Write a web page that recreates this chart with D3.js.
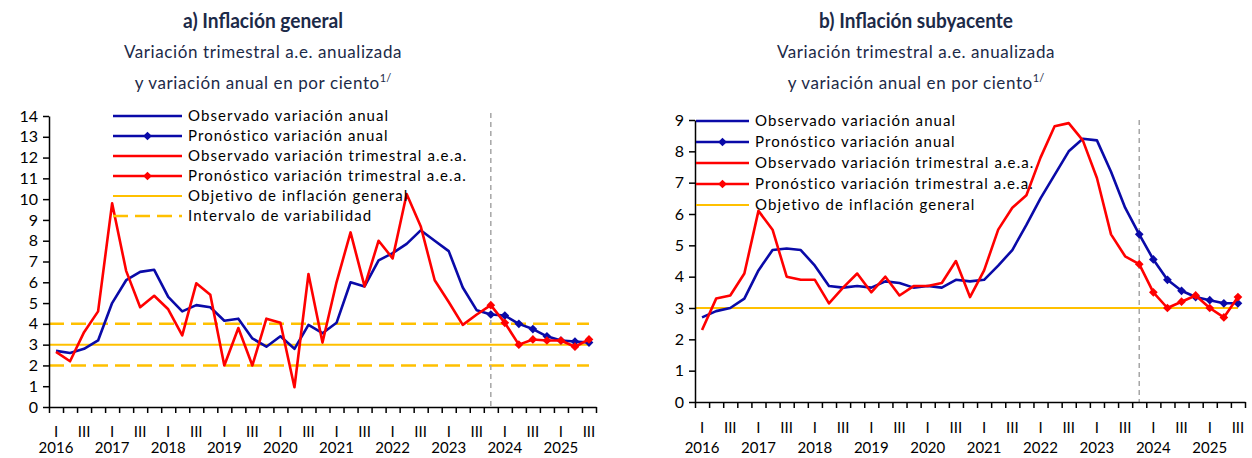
<!DOCTYPE html>
<html>
<head>
<meta charset="utf-8">
<script src="https://cdn.jsdelivr.net/npm/d3@7"></script>
<style>
  body { margin: 0; background: #fff; }
  text { font-family: Lato, "Open Sans", sans-serif; }
</style>
</head>
<body>
<svg id="chart" width="1252" height="458"></svg>
<script>
// categories: 2016 Q1 .. 2025 Q3
var years = [2016, 2017, 2018, 2019, 2020, 2021, 2022, 2023, 2024, 2025];
var quarterNames = ["I", "", "III", ""];
var nQuarters = 39;
var forecastStart = 31; // 2023 Q4

// a) Inflacion general
var genAnualObs = [2.7, 2.6, 2.8, 3.2, 5.0, 6.1, 6.5, 6.6, 5.3, 4.6, 4.9, 4.8, 4.15, 4.25, 3.3, 2.9,
  3.4, 2.8, 3.95, 3.55, 4.05, 6.0, 5.8, 7.05, 7.4, 7.85, 8.5, 8.0, 7.5, 5.75, 4.65, 4.45];
var genTrimObs = [2.65, 2.2, 3.6, 4.6, 9.8, 6.55, 4.8, 5.35, 4.7, 3.45, 5.95, 5.4, 2.0, 3.8, 2.0, 4.25,
  4.05, 0.95, 6.4, 3.1, 6.0, 8.4, 5.8, 8.0, 7.15, 10.25, 8.7, 6.1, 5.05, 3.95, 4.45, 4.9];
var genAnualPron = [4.45, 4.4, 4.0, 3.75, 3.4, 3.2, 3.15, 3.1];
var genTrimPron = [4.9, 4.05, 3.0, 3.25, 3.2, 3.2, 2.9, 3.25];
var genTarget = 3;
var genBand = [2, 4];

// b) Inflacion subyacente
var coreAnualObs = [2.7, 2.9, 3.0, 3.3, 4.2, 4.85, 4.9, 4.85, 4.35, 3.7, 3.65, 3.7, 3.65, 3.85, 3.8, 3.65,
  3.7, 3.65, 3.9, 3.85, 3.9, 4.35, 4.85, 5.65, 6.5, 7.25, 8.0, 8.4, 8.35, 7.35, 6.2, 5.35];
var coreTrimObs = [2.3, 3.3, 3.4, 4.1, 6.1, 5.5, 4.0, 3.9, 3.9, 3.15, 3.65, 4.1, 3.5, 4.0, 3.4, 3.7,
  3.7, 3.8, 4.5, 3.35, 4.2, 5.5, 6.2, 6.6, 7.8, 8.8, 8.9, 8.35, 7.15, 5.35, 4.65, 4.4];
var coreAnualPron = [5.35, 4.55, 3.9, 3.55, 3.35, 3.25, 3.15, 3.15];
var coreTrimPron = [4.4, 3.5, 3.0, 3.2, 3.4, 3.0, 2.7, 3.35];
var coreTarget = 3;

var legendGen = ["Observado variación anual", "Pronóstico variación anual",
  "Observado variación trimestral a.e.a.", "Pronóstico variación trimestral a.e.a.",
  "Objetivo de inflación general", "Intervalo de variabilidad"];
var legendCore = legendGen.slice(0, 5);

var BLUE = "#0a0aa8", RED = "#ff0000", YELLOW = "#ffc000", GRAY = "#a6a6a6";

var svg = d3.select("#chart");

function drawPanel(cfg) {
  var g = svg.append("g");

  var x = d3.scaleLinear().domain([0, nQuarters]).range([cfg.left, cfg.right]);
  var y = d3.scaleLinear().domain([0, cfg.yMax]).range([cfg.bottom, cfg.top]);
  var cx = function(i) { return x(i + 0.5); };

  // titles
  var tx = cfg.titleX;
  g.append("text").attr("x", tx).attr("y", 28).attr("text-anchor", "middle")
    .attr("textLength", cfg.titleLen).attr("lengthAdjust", "spacingAndGlyphs")
    .style("font-weight", "bold").style("font-size", "20px").style("fill", "#1c2a48")
    .text(cfg.title);
  g.append("text").attr("x", tx).attr("y", 58).attr("text-anchor", "middle")
    .style("font-size", "17px").style("fill", "#1c2a48").style("letter-spacing", "0.6px")
    .text("Variación trimestral a.e. anualizada");
  var t2 = g.append("text").attr("x", tx).attr("y", 89).attr("text-anchor", "middle")
    .style("font-size", "17px").style("fill", "#1c2a48").style("letter-spacing", "0.6px");
  t2.append("tspan").text("y variación anual en por ciento");
  t2.append("tspan").attr("dy", -7).style("font-size", "11px").style("letter-spacing", "0px").text("1/");

  // reference lines
  g.append("line").attr("x1", cfg.left).attr("x2", cx(nQuarters - 1))
    .attr("y1", y(cfg.target)).attr("y2", y(cfg.target))
    .attr("stroke", YELLOW).attr("stroke-width", 2);
  if (cfg.band) {
    cfg.band.forEach(function(b) {
      g.append("line").attr("x1", cfg.left).attr("x2", cx(nQuarters - 1))
        .attr("y1", y(b)).attr("y2", y(b))
        .attr("stroke", YELLOW).attr("stroke-width", 2.5).attr("stroke-dasharray", "15,7");
    });
  }

  // forecast divider
  g.append("line").attr("x1", cx(forecastStart)).attr("x2", cx(forecastStart))
    .attr("y1", cfg.dividerTop).attr("y2", cfg.bottom)
    .attr("stroke", GRAY).attr("stroke-width", 1.5).attr("stroke-dasharray", "5,4");

  // axes
  var xAxis = d3.axisBottom(x).tickValues(d3.range(nQuarters + 1)).tickFormat("")
    .tickSize(6).tickSizeOuter(0);
  var gx = g.append("g").attr("transform", "translate(0," + cfg.bottom + ")").call(xAxis);
  var yAxis = d3.axisLeft(y).tickValues(d3.range(cfg.yMax + 1)).tickSize(6).tickSizeOuter(0).tickPadding(5);
  var gy = g.append("g").attr("transform", "translate(" + cfg.left + ",0)").call(yAxis);
  [gx, gy].forEach(function(a) {
    a.select(".domain").attr("stroke", "#000").attr("stroke-width", 1.5);
    a.selectAll(".tick line").attr("stroke", "#000").attr("stroke-width", 1.5);
  });
  gy.selectAll(".tick text").style("font-size", "16px").style("fill", "#000")
    .style("font-family", "Lato, sans-serif");

  // quarter and year labels
  d3.range(nQuarters).forEach(function(i) {
    var q = quarterNames[i % 4];
    if (q) {
      g.append("text").attr("x", cx(i)).attr("y", cfg.qLabelY).attr("text-anchor", "middle")
        .style("font-size", "15px").style("fill", "#000").text(q);
    }
    if (i % 4 === 0) {
      g.append("text").attr("x", cx(i)).attr("y", cfg.yearLabelY).attr("text-anchor", "middle")
        .style("font-size", "15px").style("fill", "#000").text(years[i / 4]);
    }
  });

  var line = d3.line().x(function(d) { return cx(d.i); }).y(function(d) { return y(d.v); });
  function series(vals, offset) {
    return vals.map(function(v, k) { return { i: k + offset, v: v }; });
  }
  var diamond = d3.symbol(d3.symbolSquare, 38);

  function drawLine(data, color, markers) {
    g.append("path").datum(data).attr("d", line).attr("fill", "none")
      .attr("stroke", color).attr("stroke-width", 2.6).attr("stroke-linejoin", "round");
    if (markers) {
      g.selectAll(null).data(data).enter().append("path").attr("d", diamond)
        .attr("transform", function(d) { return "translate(" + cx(d.i) + "," + y(d.v) + ") rotate(45)"; })
        .attr("fill", color);
    }
  }

  drawLine(series(cfg.anualObs, 0), BLUE, false);
  drawLine(series(cfg.anualPron, forecastStart), BLUE, true);
  drawLine(series(cfg.trimObs, 0), RED, false);
  drawLine(series(cfg.trimPron, forecastStart), RED, true);

  // legend
  var styles = [
    { c: BLUE, m: false }, { c: BLUE, m: true }, { c: RED, m: false }, { c: RED, m: true },
    { c: YELLOW, m: false, w: 2 }, { c: YELLOW, m: false, w: 2.5, dash: "15,7" }
  ];
  cfg.legend.forEach(function(label, k) {
    var ly = cfg.legY + k * cfg.legStep;
    var s = styles[k];
    g.append("line").attr("x1", cfg.legX).attr("x2", cfg.legX + cfg.legLen)
      .attr("y1", ly).attr("y2", ly).attr("stroke", s.c).attr("stroke-width", s.w || 2.6)
      .attr("stroke-dasharray", s.dash || null);
    if (s.m) {
      g.append("path").attr("d", diamond)
        .attr("transform", "translate(" + (cfg.legX + cfg.legLen / 2) + "," + ly + ") rotate(45)")
        .attr("fill", s.c);
    }
    g.append("text").attr("x", cfg.legX + cfg.legLen + 6).attr("y", ly + 5)
      .style("font-size", "15px").style("fill", "#000").style("letter-spacing", "1.1px")
      .text(label);
  });
}

drawPanel({
  title: "a) Inflación general", titleX: 263, titleLen: 160,
  left: 49, right: 596, top: 116, bottom: 407, yMax: 14, dividerTop: 113,
  qLabelY: 437, yearLabelY: 453,
  anualObs: genAnualObs, trimObs: genTrimObs, anualPron: genAnualPron, trimPron: genTrimPron,
  target: genTarget, band: genBand,
  legend: legendGen, legX: 113, legLen: 69, legY: 116, legStep: 20
});

drawPanel({
  title: "b) Inflación subyacente", titleX: 916, titleLen: 194,
  left: 695, right: 1245, top: 120, bottom: 402, yMax: 9, dividerTop: 120,
  qLabelY: 433, yearLabelY: 453,
  anualObs: coreAnualObs, trimObs: coreTrimObs, anualPron: coreAnualPron, trimPron: coreTrimPron,
  target: coreTarget, band: null,
  legend: legendCore, legX: 696, legLen: 53, legY: 121, legStep: 21
});
</script>
</body>
</html>
